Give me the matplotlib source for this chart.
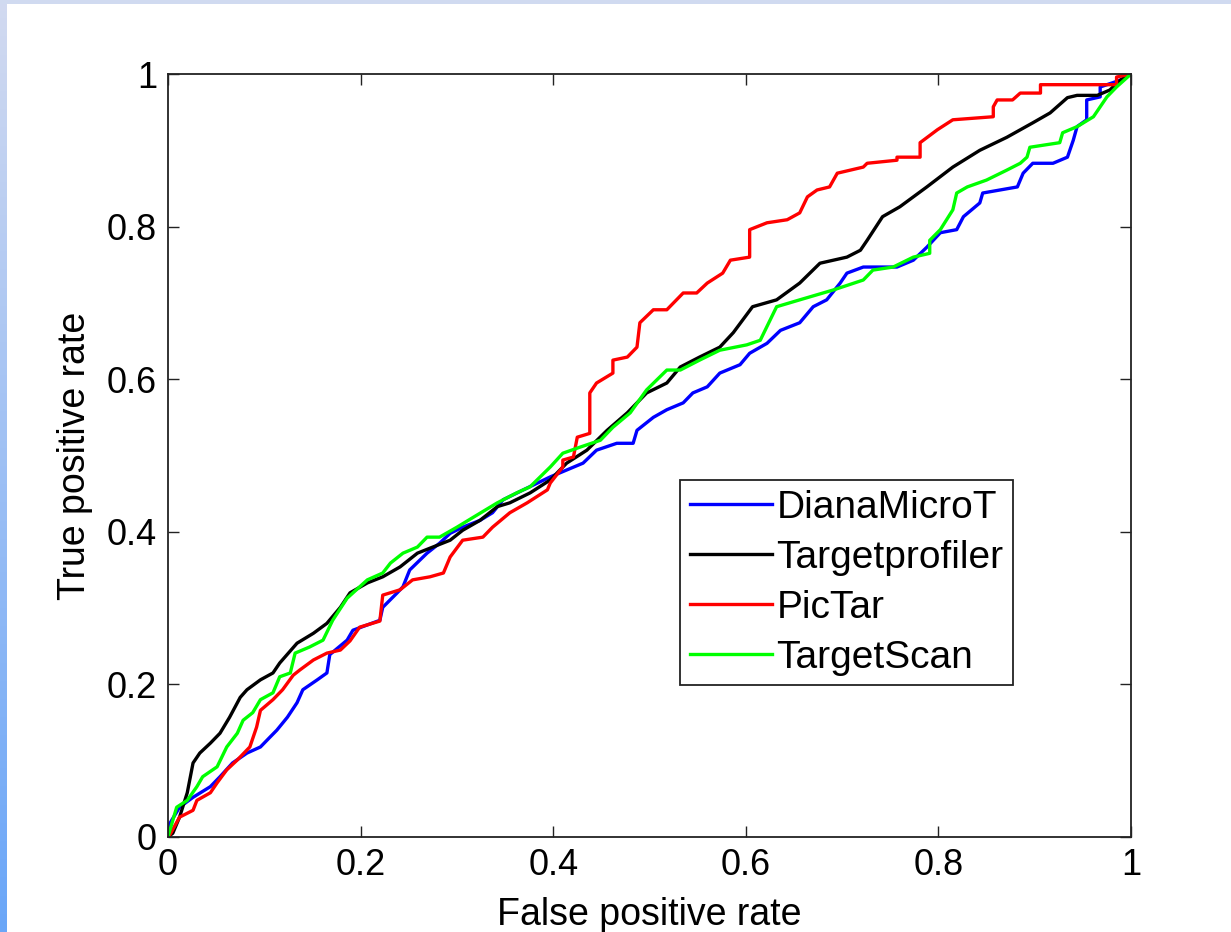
import numpy as np
import matplotlib
matplotlib.use("Agg")
import matplotlib.pyplot as plt

plt.rcParams['font.family'] = ['Liberation Sans', 'DejaVu Sans']

# ROC curves (false positive rate, true positive rate)
diana_fpr = [0, 0.002, 0.012, 0.026, 0.044, 0.054, 0.067, 0.082, 0.096, 0.106, 0.113, 0.124, 0.134,
             0.140, 0.155, 0.165, 0.168, 0.186, 0.192, 0.220, 0.223, 0.238, 0.244, 0.251, 0.269,
             0.282, 0.293, 0.306, 0.324, 0.337, 0.348, 0.369, 0.397, 0.414, 0.431, 0.445, 0.466,
             0.483, 0.487, 0.504, 0.518, 0.535, 0.545, 0.560, 0.573, 0.594, 0.604, 0.622, 0.636,
             0.656, 0.670, 0.684, 0.698, 0.705, 0.722, 0.739, 0.757, 0.774, 0.788, 0.802, 0.819,
             0.826, 0.843, 0.846, 0.882, 0.888, 0.898, 0.919, 0.934, 0.940, 0.944, 0.954, 0.954,
             0.968, 0.968, 0.989, 1.0]
diana_tpr = [0, 0.018, 0.039, 0.052, 0.066, 0.079, 0.097, 0.110, 0.118, 0.131, 0.140, 0.157, 0.176,
             0.193, 0.206, 0.215, 0.239, 0.258, 0.271, 0.284, 0.301, 0.320, 0.328, 0.350, 0.372,
             0.385, 0.398, 0.406, 0.415, 0.425, 0.442, 0.455, 0.472, 0.481, 0.490, 0.507, 0.516,
             0.516, 0.533, 0.550, 0.560, 0.569, 0.582, 0.590, 0.608, 0.619, 0.634, 0.647, 0.664,
             0.674, 0.695, 0.704, 0.726, 0.739, 0.747, 0.747, 0.747, 0.756, 0.773, 0.792, 0.796,
             0.813, 0.831, 0.844, 0.852, 0.870, 0.883, 0.883, 0.891, 0.913, 0.931, 0.940, 0.966,
             0.970, 0.983, 0.992, 1.0]

tprof_fpr = [0, 0.005, 0.012, 0.020, 0.026, 0.033, 0.044, 0.054, 0.064, 0.075, 0.082, 0.096, 0.109,
             0.116, 0.134, 0.151, 0.165, 0.179, 0.189, 0.207, 0.223, 0.241, 0.259, 0.275, 0.293,
             0.306, 0.324, 0.342, 0.355, 0.376, 0.397, 0.414, 0.435, 0.456, 0.477, 0.497, 0.518,
             0.532, 0.552, 0.573, 0.587, 0.607, 0.632, 0.656, 0.677, 0.705, 0.719, 0.726, 0.742,
             0.760, 0.788, 0.815, 0.843, 0.871, 0.898, 0.916, 0.934, 0.944, 0.965, 0.978, 0.989, 1.0]
tprof_tpr = [0, 0.005, 0.026, 0.058, 0.097, 0.110, 0.123, 0.136, 0.157, 0.183, 0.193, 0.206, 0.215,
             0.228, 0.254, 0.267, 0.280, 0.301, 0.320, 0.333, 0.341, 0.354, 0.372, 0.380, 0.389,
             0.402, 0.415, 0.433, 0.438, 0.451, 0.468, 0.490, 0.507, 0.533, 0.556, 0.582, 0.595,
             0.616, 0.629, 0.642, 0.661, 0.695, 0.704, 0.726, 0.752, 0.760, 0.769, 0.782, 0.813,
             0.826, 0.852, 0.878, 0.900, 0.917, 0.936, 0.949, 0.969, 0.972, 0.972, 0.979, 0.992, 1.0]

pictar_fpr = [0, 0.002, 0.012, 0.026, 0.030, 0.044, 0.051, 0.061, 0.072, 0.085, 0.092, 0.096, 0.109,
              0.119, 0.130, 0.137, 0.151, 0.165, 0.179, 0.189, 0.199, 0.220, 0.223, 0.241, 0.254,
              0.272, 0.286, 0.293, 0.306, 0.327, 0.337, 0.355, 0.373, 0.394, 0.397, 0.410, 0.410,
              0.421, 0.425, 0.438, 0.438, 0.445, 0.462, 0.462, 0.477, 0.487, 0.490, 0.504, 0.518,
              0.535, 0.549, 0.560, 0.576, 0.584, 0.604, 0.604, 0.622, 0.643, 0.656, 0.664, 0.674,
              0.687, 0.695, 0.722, 0.726, 0.757, 0.757, 0.781, 0.781, 0.799, 0.815, 0.857, 0.857,
              0.861, 0.877, 0.885, 0.906, 0.906, 0.985, 0.985, 1.0]
pictar_tpr = [0, 0.003, 0.026, 0.035, 0.048, 0.058, 0.071, 0.088, 0.101, 0.118, 0.144, 0.166, 0.180,
              0.193, 0.212, 0.219, 0.232, 0.241, 0.245, 0.257, 0.275, 0.283, 0.317, 0.324, 0.337,
              0.341, 0.346, 0.367, 0.389, 0.393, 0.406, 0.425, 0.438, 0.455, 0.464, 0.485, 0.494,
              0.498, 0.524, 0.529, 0.582, 0.595, 0.608, 0.625, 0.629, 0.642, 0.674, 0.691, 0.691,
              0.713, 0.713, 0.726, 0.739, 0.756, 0.760, 0.796, 0.805, 0.809, 0.818, 0.839, 0.848,
              0.852, 0.870, 0.878, 0.883, 0.887, 0.891, 0.891, 0.910, 0.927, 0.940, 0.944, 0.957,
              0.966, 0.966, 0.975, 0.975, 0.986, 0.986, 0.996, 1.0]

tscan_fpr = [0, 0.002, 0.009, 0.020, 0.030, 0.036, 0.051, 0.061, 0.072, 0.078, 0.088, 0.096, 0.109,
             0.116, 0.127, 0.132, 0.147, 0.161, 0.171, 0.186, 0.207, 0.223, 0.231, 0.244, 0.259,
             0.269, 0.282, 0.300, 0.317, 0.342, 0.362, 0.376, 0.397, 0.410, 0.428, 0.449, 0.462,
             0.480, 0.497, 0.518, 0.532, 0.552, 0.573, 0.601, 0.615, 0.632, 0.656, 0.691, 0.722,
             0.732, 0.753, 0.774, 0.791, 0.791, 0.802, 0.815, 0.819, 0.830, 0.850, 0.871, 0.885,
             0.892, 0.895, 0.926, 0.929, 0.944, 0.961, 0.975, 0.985, 1.0]
tscan_tpr = [0, 0.009, 0.039, 0.048, 0.066, 0.079, 0.092, 0.118, 0.136, 0.153, 0.163, 0.180, 0.189,
             0.210, 0.215, 0.241, 0.249, 0.258, 0.284, 0.313, 0.337, 0.346, 0.359, 0.372, 0.380,
             0.393, 0.393, 0.406, 0.419, 0.438, 0.451, 0.459, 0.485, 0.503, 0.511, 0.520, 0.537,
             0.556, 0.586, 0.612, 0.612, 0.625, 0.638, 0.645, 0.651, 0.695, 0.704, 0.717, 0.730,
             0.743, 0.747, 0.760, 0.765, 0.782, 0.796, 0.822, 0.844, 0.852, 0.861, 0.874, 0.883,
             0.891, 0.904, 0.910, 0.923, 0.931, 0.944, 0.970, 0.983, 1.0]

ticks = [0, 0.2, 0.4, 0.6, 0.8, 1]
tick_labels = ['0', '0.2', '0.4', '0.6', '0.8', '1']

fig = plt.figure(figsize=(12.31, 9.32), dpi=100, facecolor='white')

# slide-style blue border on the left and top
band = fig.add_axes([0, 0, 7 / 1231, 1])
grad = np.linspace(0, 1, 256).reshape(-1, 1)
band.imshow(grad, aspect='auto', extent=[0, 1, 0, 1],
            cmap=matplotlib.colors.LinearSegmentedColormap.from_list('b', ['#d2daf0', '#6aa6f8']))
band.axis('off')
top = fig.add_axes([0, 1 - 4 / 932, 1, 4 / 932])
top.set_facecolor('#d0daf0')
top.set_xticks([]); top.set_yticks([])
for s in top.spines.values():
    s.set_visible(False)

ax = fig.add_axes([168 / 1231, 95 / 932, 963 / 1231, 763 / 932])
lw = 2.4
ax.plot(diana_fpr, diana_tpr, color='#0000ff', lw=lw, label='DianaMicroT')
ax.plot(tprof_fpr, tprof_tpr, color='black', lw=lw, label='Targetprofiler')
ax.plot(pictar_fpr, pictar_tpr, color='#ff0000', lw=lw, label='PicTar')
ax.plot(tscan_fpr, tscan_tpr, color='#00ff00', lw=lw, label='TargetScan')

ax.set_xlim(0, 1)
ax.set_ylim(0, 1)
ax.set_xticks(ticks)
ax.set_yticks(ticks)
ax.set_xticklabels(tick_labels)
ax.set_yticklabels(tick_labels)
ax.tick_params(direction='in', length=8, width=1, top=True, right=True,
               labelsize=26, pad=8, color='#222222')
for s in ax.spines.values():
    s.set_linewidth(1.3)
    s.set_color('#222222')

ax.set_xlabel('False positive rate', fontsize=27, labelpad=10)
ax.set_ylabel('True positive rate', fontsize=27, labelpad=10)

leg = ax.legend(loc='upper left', bbox_to_anchor=(0.532, 0.468), fontsize=28,
                frameon=True, fancybox=False, edgecolor='#222222', framealpha=1,
                borderaxespad=0, borderpad=0.25, handlelength=2.1, handletextpad=0.12,
                labelspacing=0.36)
leg.get_frame().set_linewidth(1.3)

fig.savefig('out.png', dpi=100, facecolor='white')
